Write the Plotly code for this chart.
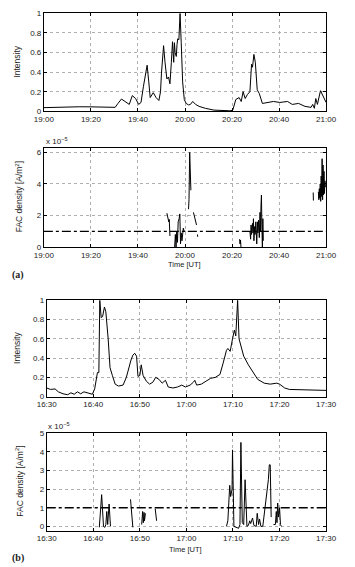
import plotly.graph_objects as go

# ---------------- data ----------------
# Panel (a): minutes after 19:00
int_a_t = [0, 5, 10, 15, 20, 25, 30.3, 31.5, 33, 34.5, 36.3, 37.6, 39, 40.3, 41.3, 42.3, 43.9, 44.6,
           45.2, 46.5, 47.7, 48.9, 49.6, 50, 50.9, 51.5, 52.3, 53, 53.6, 54.2, 54.7, 55.2, 55.5, 55.8,
           56.3, 56.6, 56.9, 57.4, 57.9, 58.4, 59, 59.7, 60.5, 61.5, 62.3, 63.3, 64.5, 66, 68.7, 72.3,
           76, 79, 80.3, 81.6, 83, 83.9, 84.7, 85.6, 86.5, 87.6, 88.3, 88.7, 89.3, 89.9, 90.7, 91.6,
           92.9, 94.9, 97.6, 100.3, 103.6, 105.6, 108.3, 111, 113.6, 114.3, 115, 115.6, 116.3, 117.6,
           119, 120]
int_a_v = [0.037, 0.04, 0.047, 0.046, 0.045, 0.043, 0.04, 0.08, 0.125, 0.1, 0.07, 0.16, 0.13, 0.07,
           0.09, 0.25, 0.47, 0.3, 0.14, 0.19, 0.14, 0.11, 0.2, 0.39, 0.67, 0.5, 0.33, 0.35, 0.28, 0.5,
           0.71, 0.5, 0.7, 0.6, 0.56, 0.68, 0.74, 0.73, 1.0, 0.7, 0.3, 0.12, 0.08, 0.065, 0.07, 0.1,
           0.07, 0.05, 0.03, 0.012, 0.006, 0.005, 0.01, 0.12, 0.14, 0.1, 0.2, 0.13, 0.17, 0.2, 0.48,
           0.45, 0.58, 0.5, 0.22, 0.18, 0.08, 0.09, 0.1, 0.09, 0.1, 0.07, 0.08, 0.05, 0.04, 0.07, 0.03,
           0.13, 0.07, 0.21, 0.13, 0.09]

fac_a_t = [52.3, 52.8, 53.1, 53.3, 53.6, None,
           55.6, 55.9, 56.2, 56.5, 56.8, 57.1, 57.5, 57.8, 58.1, 58.4, 58.7, 59.0, 59.3, 59.6, 60.2, None,
           61.0, 61.2, None,
           61.5, 61.7, 62.0, 62.3, 62.5, None,
           63.6, 64.3, 64.9, None,
           65.3, 65.4, None,
           83.2, 83.4, 83.6, 83.8, None,
           87.6, 87.9, 88.1, 88.3, 88.5, 88.7, 88.9, 89.1, 89.3, 89.6, 89.8, 90.1, 90.3, 90.5, 90.8,
           91.0, 91.3, 91.6, 91.9, 92.1, 92.3, 92.5, 92.7, 92.9, 93.1, 93.3, None,
           114.5, 114.6, None,
           116.7, 116.9, 117.1, 117.3, 117.5, 117.7, 117.9, 118.1, 118.3, 118.5, 118.7, 118.9, 119.1,
           119.3, 119.5, 119.7]
fac_a_v = [2.15, 1.9, 1.6, 1.75, 0.7, None,
           0.0, 0.8, 0.0, 1.0, 0.3, 1.6, 1.8, 2.1, 0.2, 0.9, 0.4, 1.0, 1.2, 1.0, 1.0, None,
           1.95, 2.0, None,
           2.4, 3.0, 6.0, 4.0, 3.6, None,
           2.2, 1.8, 1.4, None,
           0.8, 0.65, None,
           0.5, 0.2, 0.45, 0.0, None,
           1.0, 0.5, 1.4, 0.8, 1.2, 1.5, 0.9, 1.8, 0.4, 1.3, 0.8, 1.6, 1.0, 0.2, 1.6,
           0.9, 1.7, 0.6, 2.2, 1.0, 2.6, 3.3, 1.2, 0.0, 1.8, 0.4, None,
           3.46, 2.95, None,
           3.5, 3.0, 3.7, 3.1, 4.0, 2.9, 4.5, 3.2, 5.6, 3.0, 5.2, 3.3, 4.8,
           3.4, 4.2, 3.8]

# Panel (b): minutes after 16:30
int_b_t = [0, 0.8, 1.8, 2.5, 3.5, 4.5, 5.2, 5.9, 6.6, 7.3, 8, 8.6, 9.2, 9.8, 10.3, 10.9, 11.2, 11.4,
           11.7, 12, 12.4, 12.7, 13.2, 13.6, 14.1, 14.7, 15.4, 16.4, 17.1, 17.6, 18.1, 18.5, 18.9,
           19.3, 19.6, 20, 20.3, 20.7, 21.4, 22.1, 22.8, 23.4, 24.1, 24.8, 25.5, 26.1, 27.1, 28.1,
           29, 29.8, 30.8, 31.5, 31.8, 32.2, 33.2, 34.2, 35.2, 36.2, 37.2, 37.9, 38.6, 38.9, 39.4,
           39.9, 40.3, 40.6, 41, 41.3, 41.6, 42.3, 43.3, 44.3, 45.3, 46.7, 48, 49.4, 50, 51.1, 52.1,
           56.1, 60]
int_b_v = [0.09, 0.075, 0.08, 0.05, 0.03, 0.02, 0.04, 0.025, 0.05, 0.03, 0.05, 0.04, 0.03, 0.025,
           0.08, 0.25, 0.25, 1.0, 0.82, 0.83, 0.93, 0.88, 0.6, 0.3, 0.22, 0.13, 0.11, 0.12, 0.2, 0.3,
           0.38, 0.43, 0.45, 0.42, 0.21, 0.22, 0.33, 0.22, 0.16, 0.13, 0.15, 0.2, 0.18, 0.14, 0.17,
           0.1, 0.09, 0.1, 0.12, 0.1, 0.12, 0.15, 0.17, 0.12, 0.13, 0.16, 0.19, 0.2, 0.23, 0.35,
           0.48, 0.5, 0.47, 0.6, 0.69, 0.63, 1.0, 0.6, 0.54, 0.42, 0.33, 0.25, 0.18, 0.14, 0.13,
           0.14, 0.13, 0.09, 0.075, 0.07, 0.065]

fac_b_t = [11.3, 11.8, 12.2, 12.5, 12.7, 12.9, 13.1, 13.4, 13.7, None,
           18.0, 18.5, None,
           20.4, 20.6, 20.75, 20.9, 21.0, 21.2, None,
           23.3, 23.6, None,
           38.6, 38.9, 39.3, 39.5, 39.8, 39.9, 40.2, 40.6, 41.2, 41.5, 41.7, 42.0, 42.3, 42.6, 43.0,
           43.3, 43.6, 43.8, 44.2, 44.5, 45.0, 45.2, 45.5, 45.7, 46.0, 46.4, 46.7, 47.0, 47.4, 47.6,
           47.8, 48.0, 48.2, None,
           48.7, 49.1, 49.3, 49.45, 49.6, 49.8, 50.0, 50.2, 50.4]
fac_b_v = [-0.05, 1.7, 0.0, -0.05, 0.1, 0.8, 0.1, 1.2, 0.0, None,
           1.45, -0.05, None,
           0.1, 0.8, 0.2, 0.75, 0.3, 0.7, None,
           0.95, 0.3, None,
           0.0, 0.3, 2.2, 1.6, 2.0, 4.1, 0.0, -0.05, -0.1, 0.1, 4.5, 0.2, 0.1, 2.5, 0.0,
           0.05, 0.3, 0.15, 0.45, 0.05, 0.0, 0.7, 0.1, 0.4, 0.0, 0.0, 0.6, 1.2, 1.8, 2.5,
           3.3, 3.3, 0.5, None,
           0.1, 0.1, 0.8, 0.2, 1.25, 0.5, 1.0, 0.1, 0.0]

threshold = 1.0  # x 1e-5 A/m^2

ticks_a = [0, 20, 40, 60, 80, 100, 120]
labels_a = ["19:00", "19:20", "19:40", "20:00", "20:20", "20:40", "21:00"]
ticks_b = [0, 10, 20, 30, 40, 50, 60]
labels_b = ["16:30", "16:40", "16:50", "17:00", "17:10", "17:20", "17:30"]

# ---------------- figure ----------------
W, H = 355, 567
FONT = "Liberation Sans, Arial, sans-serif"
SERIF = "Liberation Serif, Times New Roman, serif"


def xd(a, b):
    return [a / W, b / W]


def yd(top, bottom):
    return [1 - bottom / H, 1 - top / H]


fig = go.Figure()
line = dict(color="black", width=1)
fig.add_trace(go.Scatter(x=int_a_t, y=int_a_v, mode="lines", line=line, xaxis="x", yaxis="y"))
fig.add_trace(go.Scatter(x=fac_a_t, y=fac_a_v, mode="lines", line=line, connectgaps=False,
                         xaxis="x2", yaxis="y2"))
fig.add_trace(go.Scatter(x=[ticks_a[0], ticks_a[-1]], y=[threshold, threshold], mode="lines",
                         line=dict(color="black", width=1.3, dash="dashdot"), xaxis="x2", yaxis="y2"))
fig.add_trace(go.Scatter(x=int_b_t, y=int_b_v, mode="lines", line=line, xaxis="x3", yaxis="y3"))
fig.add_trace(go.Scatter(x=fac_b_t, y=fac_b_v, mode="lines", line=line, connectgaps=False,
                         xaxis="x4", yaxis="y4"))
fig.add_trace(go.Scatter(x=[ticks_b[0], ticks_b[-1]], y=[threshold, threshold], mode="lines",
                         line=dict(color="black", width=1.3, dash="dashdot"), xaxis="x4", yaxis="y4"))

ax_common = dict(showline=True, linecolor="black", linewidth=1, mirror="ticks", ticks="inside",
                 ticklen=3, tickcolor="black", showgrid=True, gridcolor="#b0b0b0", griddash="dot",
                 gridwidth=0.8, zeroline=False, tickfont=dict(family=FONT, size=8, color="#222"))

panels = [
    ("", dict(x=(36, 336), y=(9.5, 109), xr=[0, 120], yr=[0, 1], xt=(ticks_a, labels_a),
              yt=([0, 0.2, 0.4, 0.6, 0.8, 1], ["0", "0.2", "0.4", "0.6", "0.8", "1"]))),
    ("2", dict(x=(36, 336), y=(146, 247), xr=[0, 120], yr=[0, 6.3], xt=(ticks_a, labels_a),
               yt=([0, 2, 4, 6], ["0", "2", "4", "6"]))),
    ("3", dict(x=(39, 336), y=(301, 399), xr=[0, 60], yr=[0, 1], xt=(ticks_b, labels_b),
               yt=([0, 0.2, 0.4, 0.6, 0.8, 1], ["0", "0.2", "0.4", "0.6", "0.8", "1"]))),
    ("4", dict(x=(39, 336), y=(436, 535), xr=[0, 60], yr=[-0.22, 5], xt=(ticks_b, labels_b),
               yt=([0, 1, 2, 3, 4, 5], ["0", "1", "2", "3", "4", "5"]))),
]
lay = {}
for s, p in panels:
    lay["xaxis" + s] = dict(ax_common, domain=xd(*p["x"]), range=p["xr"], anchor="y" + s,
                            tickvals=p["xt"][0], ticktext=p["xt"][1])
    lay["yaxis" + s] = dict(ax_common, domain=yd(*p["y"]), range=p["yr"], anchor="x" + s,
                            tickvals=p["yt"][0], ticktext=p["yt"][1])

annotations = []


def ann(text, px, py, size=8, angle=0, family=FONT, xanchor="center", color="#222"):
    annotations.append(dict(text=text, x=px / W, y=1 - py / H, xref="paper", yref="paper",
                            showarrow=False, textangle=angle, xanchor=xanchor, yanchor="middle",
                            font=dict(family=family, size=size, color=color)))


ann("Intensity", 8, 59, size=8.5, angle=-90)
ann("FAC density [A/m<sup>2</sup>]", 10, 196, size=8.5, angle=-90)
ann("Intensity", 8, 350, size=8.5, angle=-90)
ann("FAC density [A/m<sup>2</sup>]", 10, 485, size=8.5, angle=-90)
ann("x 10<sup>−5</sup>", 36, 139, size=8, xanchor="left")
ann("x 10<sup>−5</sup>", 38, 429, size=8, xanchor="left")
ann("Time [UT]", 186, 265, size=7.5)
ann("Time [UT]", 187, 554, size=7.5)
ann("<b>(a)</b>", 0, 275, size=10, xanchor="left", family=SERIF)
ann("<b>(b)</b>", 0, 563, size=10, xanchor="left", family=SERIF)

fig.update_layout(width=W, height=H, margin=dict(l=0, r=0, t=0, b=0), showlegend=False,
                  paper_bgcolor="white", plot_bgcolor="white", annotations=annotations, **lay)

fig.write_html("out.html")
